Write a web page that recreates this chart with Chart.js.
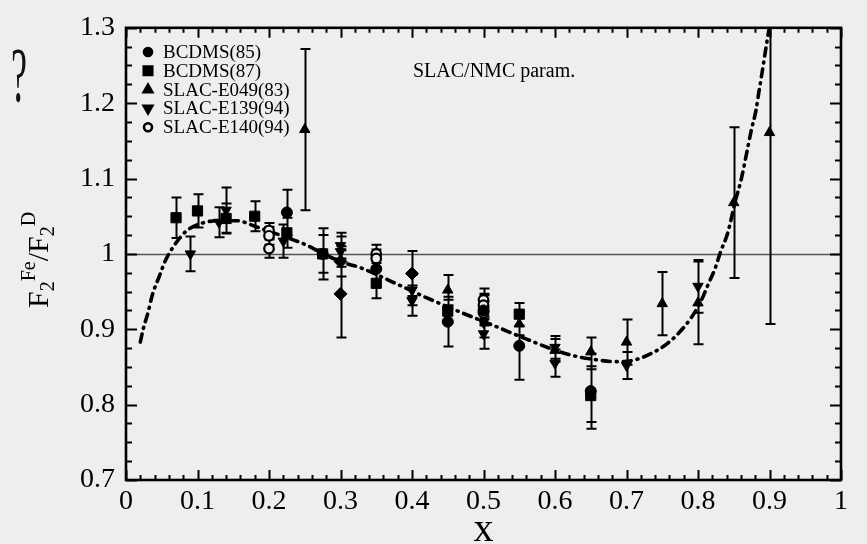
<!DOCTYPE html>
<html>
<head>
<meta charset="utf-8">
<script src="https://cdn.jsdelivr.net/npm/chart.js@4.4.0/dist/chart.umd.min.js"></script>
<style>
  html, body { margin: 0; padding: 0; background: #eeeeec; }
  canvas { display: block; }
</style>
</head>
<body>
<canvas id="myChart" width="867" height="544"></canvas>
<script>
// tick labels
const xTicks = [0, 0.1, 0.2, 0.3, 0.4, 0.5, 0.6, 0.7, 0.8, 0.9, 1];
const yTicks = [0.7, 0.8, 0.9, 1, 1.1, 1.2, 1.3];

// BCDMS(85)
const bcdms85X = [0.225, 0.275, 0.35, 0.45, 0.5, 0.55, 0.65];
const bcdms85Y = [1.055, 1.0, 0.98, 0.91, 0.925, 0.878, 0.818];
const bcdms85E = [0.03, 0.034, 0.02, 0.033, 0.02, 0.045, 0.05];

// BCDMS(87)
const bcdms87X = [0.07, 0.1, 0.14, 0.18, 0.225, 0.275, 0.35, 0.45, 0.55, 0.65];
const bcdms87Y = [1.048, 1.057, 1.047, 1.05, 1.028, 1.0, 0.961, 0.924, 0.92, 0.812];
const bcdms87E = [0.027, 0.022, 0.02, 0.02, 0.02, 0.025, 0.02, 0.015, 0.015, 0.035];

// SLAC-E049(83)
const e049X = [0.25, 0.45, 0.55, 0.6, 0.65, 0.7, 0.75, 0.8, 0.85, 0.9];
const e049Y = [1.165, 0.952, 0.907, 0.872, 0.87, 0.883, 0.934, 0.935, 1.068, 1.161];
const e049E = [0.107, 0.02, 0.015, 0.015, 0.019, 0.03, 0.042, 0.055, 0.1, 0.254];

// SLAC-E139(94)
const e139X = [0.09, 0.13, 0.14, 0.22, 0.3, 0.3, 0.4, 0.4, 0.5, 0.5, 0.6, 0.6, 0.7, 0.8];
const e139Y = [1.0, 1.042, 1.058, 1.017, 1.011, 1.003, 0.952, 0.938, 0.909, 0.894, 0.876, 0.855, 0.852, 0.957];
const e139E = [0.023, 0.02, 0.03, 0.022, 0.017, 0.02, 0.02, 0.02, 0.02, 0.02, 0.015, 0.018, 0.018, 0.035];

// SLAC-E140(94)
const e140X = [0.2, 0.2, 0.2, 0.35, 0.35, 0.5, 0.5, 0.5];
const e140Y = [1.031, 1.024, 1.007, 1.0, 0.994, 0.939, 0.932, 0.922];
const e140E = [0.01, 0.012, 0.012, 0.012, 0.012, 0.015, 0.015, 0.015];

// diamonds (no legend entry)
const otherX = [0.3, 0.3, 0.4];
const otherY = [0.99, 0.947, 0.974];
const otherE = [0.02, 0.058, 0.03];

// SLAC/NMC parametrisation
const paramX = [0.02, 0.024, 0.031, 0.037, 0.046, 0.055, 0.068, 0.084, 0.107, 0.13, 0.155, 0.182, 0.206, 0.23, 0.254, 0.276, 0.309, 0.327, 0.372, 0.42, 0.467, 0.514, 0.56, 0.607, 0.635, 0.654, 0.684, 0.71, 0.735, 0.757, 0.775, 0.791, 0.803, 0.814, 0.824, 0.832, 0.841, 0.853, 0.86, 0.87, 0.875, 0.881, 0.885, 0.889, 0.893, 0.897, 0.899, 0.905];
const paramY = [0.883, 0.9, 0.923, 0.946, 0.969, 0.991, 1.012, 1.03, 1.041, 1.044, 1.044, 1.036, 1.028, 1.02, 1.011, 1.0, 0.987, 0.982, 0.963, 0.942, 0.923, 0.905, 0.887, 0.87, 0.863, 0.86, 0.857, 0.859, 0.868, 0.881, 0.897, 0.916, 0.935, 0.959, 0.981, 1.004, 1.026, 1.073, 1.097, 1.143, 1.166, 1.19, 1.214, 1.237, 1.261, 1.285, 1.296, 1.33];

const pts = (xs, ys) => xs.map((x, i) => ({ x: x, y: ys[i] }));
const serif = 'Liberation Serif';
const bg = '#eeeeec';

function marker(label, xs, ys, errs, style, radius, extra) {
    return Object.assign({
        type: 'scatter',
        label: label,
        data: pts(xs, ys),
        errors: errs,
        pointStyle: style,
        pointRadius: radius,
        pointBackgroundColor: '#000',
        pointBorderColor: '#000',
        pointBorderWidth: 1,
        order: 0
    }, extra || {});
}

const datasets = [
    marker('BCDMS(85)', bcdms85X, bcdms85Y, bcdms85E, 'circle', 5.5),
    marker('BCDMS(87)', bcdms87X, bcdms87Y, bcdms87E, 'rect', 7.2),
    marker('SLAC-E049(83)', e049X, e049Y, e049E, 'triangle', 6),
    marker('SLAC-E139(94)', e139X, e139Y, e139E, 'triangle', 6, { pointRotation: 180 }),
    marker('SLAC-E140(94)', e140X, e140Y, e140E, 'circle', 4.8, { pointBackgroundColor: bg, pointBorderWidth: 2.2 }),
    marker('', otherX, otherY, otherE, 'rectRot', 6.5),
    {
        type: 'line',
        label: 'SLAC/NMC param.',
        data: pts(paramX, paramY),
        borderColor: '#000',
        borderWidth: 3.6,
        borderDash: [8, 6, 1, 6],
        borderCapStyle: 'round',
        pointRadius: 0,
        cubicInterpolationMode: 'monotone',
        fill: false,
        order: 1
    }
];

function drawTicks(ctx, a, sx, sy) {
    ctx.strokeStyle = '#000';
    ctx.lineWidth = 2;
    ctx.beginPath();
    for (let i = 0; i <= 50; i++) {
        const px = Math.round(sx.getPixelForValue(i * 0.02)) + 0.5;
        const len = i % 5 === 0 ? 10 : 5;
        ctx.moveTo(px, a.bottom); ctx.lineTo(px, a.bottom - len);
        ctx.moveTo(px, a.top); ctx.lineTo(px, a.top + len);
    }
    for (let i = 0; i <= 24; i++) {
        const py = Math.round(sy.getPixelForValue(0.7 + i * 0.025)) + 0.5;
        const len = i % 4 === 0 ? 11 : 6;
        ctx.moveTo(a.left, py); ctx.lineTo(a.left + len, py);
        ctx.moveTo(a.right, py); ctx.lineTo(a.right - len, py);
    }
    ctx.stroke();
    ctx.lineWidth = 2.6;
    ctx.strokeRect(a.left, a.top, a.right - a.left, a.bottom - a.top);
}

const frame = {
    id: 'frame',
    beforeDraw(chart) {
        const ctx = chart.ctx;
        ctx.save();
        ctx.fillStyle = bg;
        ctx.fillRect(0, 0, chart.width, chart.height);
        ctx.restore();
    },
    beforeDatasetsDraw(chart) {
        const ctx = chart.ctx, a = chart.chartArea;
        const sx = chart.scales.x, sy = chart.scales.y;
        ctx.save();
        // reference line at 1
        const y1 = Math.round(sy.getPixelForValue(1)) + 0.5;
        ctx.strokeStyle = '#555';
        ctx.lineWidth = 1.3;
        ctx.beginPath();
        ctx.moveTo(a.left, y1); ctx.lineTo(a.right, y1);
        ctx.stroke();
        // error bars
        ctx.beginPath();
        ctx.rect(a.left, a.top, a.right - a.left, a.bottom - a.top);
        ctx.clip();
        ctx.strokeStyle = '#000';
        ctx.lineWidth = 2;
        ctx.beginPath();
        chart.data.datasets.forEach(ds => {
            if (!ds.errors) return;
            ds.data.forEach((p, i) => {
                const px = Math.round(sx.getPixelForValue(p.x)) + 0.5;
                const top = sy.getPixelForValue(p.y + ds.errors[i]);
                const bot = sy.getPixelForValue(p.y - ds.errors[i]);
                ctx.moveTo(px, top); ctx.lineTo(px, bot);
                ctx.moveTo(px - 5, top); ctx.lineTo(px + 5, top);
                ctx.moveTo(px - 5, bot); ctx.lineTo(px + 5, bot);
            });
        });
        ctx.stroke();
        ctx.restore();
    },
    afterDraw(chart) {
        const ctx = chart.ctx, a = chart.chartArea;
        ctx.save();
        drawTicks(ctx, a, chart.scales.x, chart.scales.y);

        // legend
        ctx.font = '19px "' + serif + '"';
        ctx.textBaseline = 'middle';
        ctx.fillStyle = '#000';
        chart.data.datasets.slice(0, 5).forEach((ds, i) => {
            const y = 52 + i * 18.8;
            ctx.fillStyle = ds.pointBackgroundColor;
            ctx.strokeStyle = '#000';
            Chart.helpers.drawPoint(ctx, {
                pointStyle: ds.pointStyle,
                rotation: ds.pointRotation || 0,
                radius: ds.pointStyle === 'rect' ? 6 : (ds.pointStyle === 'circle' ? 4 : 5),
                borderWidth: ds.pointBorderWidth
            }, 148, y);
            ctx.fillStyle = '#000';
            ctx.fillText(ds.label, 163, y + 1);
        });

        // curve label
        ctx.font = '20px "' + serif + '"';
        ctx.textBaseline = 'alphabetic';
        ctx.fillText('SLAC/NMC param.', 413, 77);

        // x title
        ctx.font = '40px "' + serif + '"';
        ctx.textAlign = 'center';
        ctx.fillText('x', (a.left + a.right) / 2, 541);

        // y title F2^Fe / F2^D
        ctx.translate(48, 308);
        ctx.rotate(-Math.PI / 2);
        ctx.textAlign = 'left';
        const big = '30px "' + serif + '"', small = '20px "' + serif + '"';
        let cx = 0;
        const put = (t, f, dy) => {
            ctx.font = f;
            ctx.fillText(t, cx, dy);
            cx += ctx.measureText(t).width;
        };
        put('F', big, 0); put('2', small, 6); put('Fe', small, -13);
        put('/', big, 0);
        put('F', big, 0); put('2', small, 6); put('D', small, -13);
        ctx.restore();

        // stray question mark at left
        ctx.save();
        ctx.translate(11, 101);
        ctx.scale(0.5, 1.1);
        ctx.font = '72px "' + serif + '"';
        ctx.fillStyle = '#111';
        ctx.fillText('?', 0, 0);
        ctx.restore();
    }
};

const ctx = document.getElementById('myChart').getContext('2d');
const myChart = new Chart(ctx, {
    type: 'scatter',
    data: { datasets: datasets },
    options: {
        responsive: false,
        animation: false,
        devicePixelRatio: 1,
        layout: { padding: { top: 20, right: 26, left: 0, bottom: 0 } },
        plugins: {
            legend: { display: false },
            tooltip: { enabled: false }
        },
        scales: {
            x: {
                type: 'linear',
                min: 0,
                max: 1,
                afterBuildTicks: s => { s.ticks = xTicks.map(v => ({ value: v })); },
                afterFit: s => { s.height = 64; },
                grid: { display: false, drawTicks: false },
                border: { display: false },
                ticks: {
                    padding: 5,
                    color: '#000',
                    font: { family: serif, size: 28 },
                    callback: v => String(+v.toFixed(2))
                }
            },
            y: {
                type: 'linear',
                min: 0.7,
                max: 1.3,
                afterBuildTicks: s => { s.ticks = yTicks.map(v => ({ value: v })); },
                afterFit: s => { s.width = 126; },
                grid: { display: false, drawTicks: false },
                border: { display: false },
                ticks: {
                    padding: 11,
                    color: '#000',
                    font: { family: serif, size: 28 },
                    callback: v => String(+v.toFixed(2))
                }
            }
        }
    },
    plugins: [frame]
});
</script>
</body>
</html>
